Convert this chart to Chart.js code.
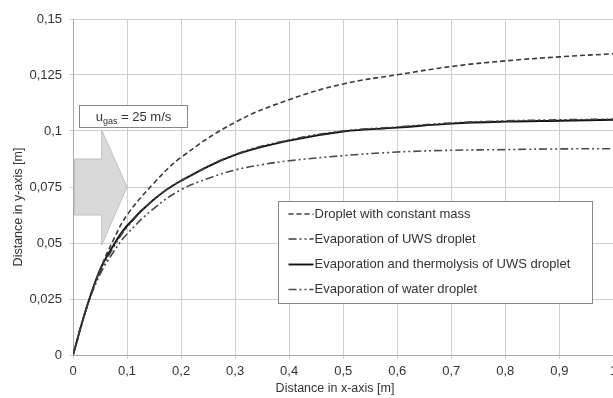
<!DOCTYPE html>
<html>
<head>
<meta charset="utf-8">
<script src="https://cdn.jsdelivr.net/npm/chart.js@4"></script>
<style>
  body { margin: 0; overflow: hidden; background: #fff; }
  #wrap { width: 622px; height: 398px; position: relative; }
</style>
</head>
<body>
<div id="wrap"><canvas id="chart"></canvas></div>
<script>
// --- data ---
const xTicks = [0, 0.1, 0.2, 0.3, 0.4, 0.5, 0.6, 0.7, 0.8, 0.9, 1];
const yTicks = [0, 0.025, 0.05, 0.075, 0.1, 0.125, 0.15];

const xConstMass = [0, 0.025, 0.05, 0.075, 0.1, 0.15, 0.2, 0.3, 0.4, 0.5, 0.6, 0.7, 0.8, 0.9, 1];
const yConstMass = [0, 0.021, 0.038, 0.0515, 0.0625, 0.0768, 0.0882, 0.1039, 0.114, 0.121, 0.1251, 0.1288, 0.1313, 0.1331, 0.1345];

const xUws = [0, 0.025, 0.05, 0.075, 0.1, 0.15, 0.2, 0.3, 0.4, 0.5, 0.6, 0.7, 0.8, 0.9, 1];
const yUws = [0, 0.021, 0.037, 0.048, 0.057, 0.0695, 0.0778, 0.0895, 0.096, 0.1, 0.1018, 0.1036, 0.1045, 0.105, 0.1053];

const xThermo = [0, 0.025, 0.05, 0.075, 0.1, 0.15, 0.2, 0.3, 0.4, 0.5, 0.6, 0.7, 0.8, 0.9, 1];
const yThermo = [0, 0.021, 0.038, 0.049, 0.0577, 0.0695, 0.0778, 0.0893, 0.0957, 0.0998, 0.1015, 0.1033, 0.1042, 0.1046, 0.105];

const xWater = [0, 0.025, 0.05, 0.075, 0.1, 0.15, 0.2, 0.25, 0.3, 0.35, 0.4, 0.5, 0.6, 0.7, 0.8, 0.9, 1];
const yWater = [0, 0.021, 0.036, 0.046, 0.054, 0.0655, 0.0738, 0.0788, 0.0826, 0.085, 0.0867, 0.089, 0.0906, 0.0914, 0.0917, 0.092, 0.0921];

const FONT = "'Liberation Sans', Arial, sans-serif";
const TXT = '#333';

function toPts(xs, ys) {
    return xs.map((x, i) => ({ x: x, y: ys[i] }));
}

function fmt(v) {
    return String(Number(v.toFixed(3))).replace('.', ',');
}

// arrow, annotation box, legend box and axis titles
const extras = {
    id: 'extras',
    beforeDatasetsDraw(chart) {
        const ctx = chart.ctx, sx = chart.scales.x, sy = chart.scales.y;
        const X = v => sx.getPixelForValue(v), Y = v => sy.getPixelForValue(v);
        ctx.save();
        ctx.beginPath();
        ctx.moveTo(X(0.003), Y(0.0875));
        ctx.lineTo(X(0.053), Y(0.0875));
        ctx.lineTo(X(0.053), Y(0.1005));
        ctx.lineTo(X(0.1), Y(0.075));
        ctx.lineTo(X(0.053), Y(0.049));
        ctx.lineTo(X(0.053), Y(0.0625));
        ctx.lineTo(X(0.003), Y(0.0625));
        ctx.closePath();
        ctx.fillStyle = '#d9d9d9';
        ctx.fill();
        ctx.strokeStyle = '#c0c0c0';
        ctx.lineWidth = 1;
        ctx.stroke();
        ctx.restore();
    },
    afterDatasetsDraw(chart) {
        const ctx = chart.ctx, sx = chart.scales.x, sy = chart.scales.y;
        const X = v => sx.getPixelForValue(v), Y = v => sy.getPixelForValue(v);
        ctx.save();

        // u_gas box
        const bx0 = Math.round(X(0.011)) + 0.5, bx1 = Math.round(X(0.211)) + 0.5;
        const by0 = Math.round(Y(0.1116)) + 0.5, by1 = Math.round(Y(0.1018)) + 0.5;
        ctx.fillStyle = '#fff';
        ctx.fillRect(bx0, by0, bx1 - bx0, by1 - by0);
        ctx.strokeStyle = '#888';
        ctx.lineWidth = 1;
        ctx.strokeRect(bx0, by0, bx1 - bx0, by1 - by0);
        ctx.fillStyle = TXT;
        ctx.textBaseline = 'alphabetic';
        ctx.font = '13px ' + FONT;
        const wU = ctx.measureText('u').width;
        const wRest = ctx.measureText(' = 25 m/s').width;
        ctx.font = '9px ' + FONT;
        const wSub = ctx.measureText('gas').width;
        let tx = (bx0 + bx1) / 2 - (wU + wSub + wRest) / 2;
        const base = (by0 + by1) / 2 + 4.5;
        ctx.font = '13px ' + FONT;
        ctx.fillText('u', tx, base);
        tx += wU;
        ctx.font = '9px ' + FONT;
        ctx.fillText('gas', tx, base + 3);
        tx += wSub;
        ctx.font = '13px ' + FONT;
        ctx.fillText(' = 25 m/s', tx, base);

        // legend box
        const lx0 = Math.round(X(0.38)) + 0.5, lx1 = Math.round(X(0.961)) + 0.5;
        const ly0 = Math.round(Y(0.0688)) + 0.5, ly1 = Math.round(Y(0.0232)) + 0.5;
        ctx.fillStyle = '#fff';
        ctx.fillRect(lx0, ly0, lx1 - lx0, ly1 - ly0);
        ctx.strokeStyle = '#888';
        ctx.strokeRect(lx0, ly0, lx1 - lx0, ly1 - ly0);
        const rowY = [12.5, 37.5, 63, 88];
        chart.data.datasets.forEach((ds, i) => {
            const ry = ly0 + rowY[i];
            ctx.beginPath();
            ctx.setLineDash(ds.borderDash || []);
            ctx.strokeStyle = ds.borderColor;
            ctx.lineWidth = ds.borderWidth;
            ctx.moveTo(lx0 + 10, ry);
            ctx.lineTo(lx0 + 35, ry);
            ctx.stroke();
            ctx.setLineDash([]);
            ctx.fillStyle = TXT;
            ctx.font = '13px ' + FONT;
            ctx.textBaseline = 'middle';
            ctx.fillText(ds.label, lx0 + 36, ry);
        });

        // axis titles
        ctx.fillStyle = TXT;
        ctx.font = '12.5px ' + FONT;
        ctx.textAlign = 'center';
        ctx.textBaseline = 'middle';
        ctx.fillText('Distance in x-axis [m]', 335, 389);
        ctx.translate(19, 207);
        ctx.rotate(-Math.PI / 2);
        ctx.fillText('Distance in y-axis [m]', 0, 0);
        ctx.restore();
    }
};

new Chart(document.getElementById('chart'), {
    type: 'line',
    data: {
        datasets: [
            {
                label: 'Droplet with constant mass',
                data: toPts(xConstMass, yConstMass),
                borderColor: '#3a3a3a',
                borderWidth: 1.6,
                borderDash: [5, 3]
            },
            {
                label: 'Evaporation of UWS droplet',
                data: toPts(xUws, yUws),
                borderColor: '#404040',
                borderWidth: 1.6,
                borderDash: [8, 3, 2, 3, 2, 3]
            },
            {
                label: 'Evaporation and thermolysis of UWS droplet',
                data: toPts(xThermo, yThermo),
                borderColor: '#111',
                borderWidth: 1.9
            },
            {
                label: 'Evaporation of water droplet',
                data: toPts(xWater, yWater),
                borderColor: '#4a4a4a',
                borderWidth: 1.6,
                borderDash: [8, 3, 2, 3, 2, 3]
            }
        ]
    },
    options: {
        responsive: true,
        maintainAspectRatio: false,
        animation: false,
        layout: { padding: { top: 19, right: 0, left: 0, bottom: 0 } },
        elements: {
            point: { radius: 0 },
            line: { tension: 0.4, fill: false }
        },
        plugins: {
            legend: { display: false },
            tooltip: { enabled: false }
        },
        scales: {
            x: {
                type: 'linear',
                min: 0,
                max: 1,
                afterBuildTicks: s => { s.ticks = xTicks.map(v => ({ value: v })); },
                afterFit: s => { s.height = 43; },
                ticks: {
                    callback: v => fmt(v),
                    font: { size: 13, family: FONT },
                    color: TXT,
                    padding: 5,
                    maxRotation: 0
                },
                grid: { color: '#cfcfcf', tickLength: 4 },
                border: { color: '#a8a8a8' }
            },
            y: {
                type: 'linear',
                min: 0,
                max: 0.15,
                afterBuildTicks: s => { s.ticks = yTicks.map(v => ({ value: v })); },
                afterFit: s => { s.width = 73; },
                ticks: {
                    callback: v => fmt(v),
                    font: { size: 13, family: FONT },
                    color: TXT,
                    padding: 7
                },
                grid: { color: '#cfcfcf', tickLength: 4 },
                border: { color: '#a8a8a8' }
            }
        }
    },
    plugins: [extras]
});
</script>
</body>
</html>
